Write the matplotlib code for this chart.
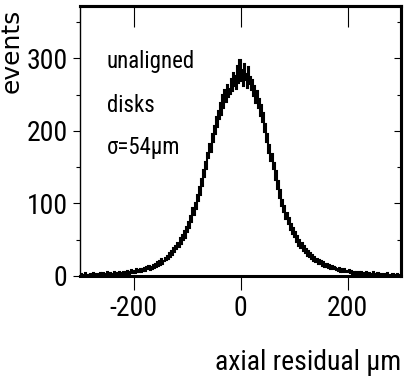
import numpy as np
import matplotlib
matplotlib.use('Agg')
import matplotlib.pyplot as plt
from matplotlib import font_manager

# histogram of axial residuals, 2 um bins from -300 to 300
edges = np.arange(-300, 301, 2)
counts = [
    1, 3, 0, 2, 1, 4, 1, 0, 2, 3,
    1, 2, 4, 1, 3, 0, 2, 3, 1, 4,
    2, 4, 1, 3, 2, 5, 1, 3, 4, 2,
    3, 1, 5, 2, 4, 3, 6, 2, 4, 3,
    5, 2, 6, 3, 7, 4, 3, 6, 8, 4,
    7, 4, 9, 5, 8, 6, 10, 5, 9, 7,
    11, 7, 12, 9, 14, 8, 13, 10, 15, 11,
    16, 12, 19, 14, 21, 15, 23, 17, 20, 25,
    22, 28, 24, 31, 26, 35, 29, 38, 33, 41,
    37, 46, 40, 52, 44, 57, 49, 62, 53, 68,
    60, 74, 66, 82, 75, 93, 84, 100, 92, 111,
    104, 122, 112, 133, 124, 146, 136, 157, 148, 170,
    162, 182, 171, 196, 184, 207, 195, 219, 205, 228,
    216, 238, 222, 249, 232, 256, 240, 263, 247, 258,
    251, 272, 255, 280, 262, 276, 258, 290, 266, 298,
    268, 284, 262, 292, 270, 278, 259, 288, 265, 274,
    256, 270, 248, 262, 238, 255, 231, 244, 220, 236,
    212, 224, 198, 210, 184, 196, 170, 181, 158, 168,
    148, 156, 132, 144, 120, 131, 108, 118, 96, 105,
    88, 97, 79, 87, 72, 80, 64, 71, 58, 66,
    54, 60, 47, 55, 42, 49, 38, 45, 35, 41,
    31, 37, 28, 34, 26, 31, 23, 29, 21, 26,
    19, 24, 17, 22, 16, 20, 14, 19, 13, 17,
    12, 16, 11, 15, 10, 14, 9, 13, 11, 8,
    10, 7, 11, 6, 9, 5, 8, 10, 6, 7,
    5, 8, 4, 7, 3, 6, 5, 2, 6, 4,
    3, 5, 2, 6, 3, 4, 1, 5, 3, 2,
    4, 1, 3, 2, 5, 1, 3, 2, 4, 2,
    1, 3, 2, 0, 3, 1, 2, 4, 1, 2,
    2, 0, 3, 1, 2, 1, 3, 0, 2, 1,
]

xticks = [-200, 0, 200]
yticks = [0, 100, 200, 300]
yminor = [50, 150, 250, 350]
notes = ['unaligned', 'disks', '\u03c3=54\u03bcm']

names = {f.name for f in font_manager.fontManager.ttflist}
narrow = 'Liberation Sans'
for cand in ['Liberation Sans Narrow', 'Arial Narrow', 'Nimbus Sans Narrow',
             'Roboto Condensed', 'PT Sans Narrow', 'Archivo Narrow',
             'Pragati Narrow', 'Barlow Semi Condensed']:
    if cand in names:
        narrow = cand
        break
plt.rcParams['font.family'] = [narrow, 'DejaVu Sans']
plt.rcParams['axes.unicode_minus'] = False

fig = plt.figure(figsize=(4.07, 3.82), dpi=100)
ax = fig.add_axes([0.1966, 0.2775, 0.7887, 0.7068])

ax.stairs(counts, edges, color='black', lw=1.5)

ax.set_xlim(-300, 300)
ax.set_ylim(0, 372)

ax.set_xticks(xticks)
ax.set_yticks(yticks)
ax.set_yticks(yminor, minor=True)
ax.tick_params(axis='x', which='major', direction='out', length=10, width=0.8,
               labelsize=20, pad=4, top=False)
ax.tick_params(axis='y', which='major', direction='out', length=5, width=0.8,
               labelsize=20, pad=4)
ax.tick_params(axis='y', which='minor', direction='out', length=3, width=0.8)

# inward ticks on the top and right edges
sec_x = ax.secondary_xaxis('top')
sec_x.set_xticks(xticks)
sec_x.tick_params(direction='in', length=15, width=0.8, labeltop=False)
sec_x.spines['top'].set_linewidth(2.2)
sec_y = ax.secondary_yaxis('right')
sec_y.set_yticks(yticks)
sec_y.set_yticks(yminor, minor=True)
sec_y.tick_params(which='major', direction='in', length=5, width=0.8, labelright=False)
sec_y.tick_params(which='minor', direction='in', length=3, width=0.8)
sec_y.spines['right'].set_linewidth(2.2)

ax.spines['left'].set_linewidth(1.0)
ax.spines['bottom'].set_linewidth(2.2)
ax.spines['top'].set_linewidth(2.2)
ax.spines['right'].set_linewidth(2.2)

for txt, yv in zip(notes, [286, 226, 168]):
    ax.text(-250, yv, txt, fontsize=16.5, ha='left', va='baseline')

fig.text(401 / 407, 1 - 370 / 382, 'axial residual \u03bcm', fontsize=20,
         ha='right', va='baseline')
fig.text(0 / 407, 1 - 9 / 382, 'events', fontsize=18, rotation=90,
         ha='left', va='top', family=['DejaVu Sans'])

fig.savefig('out.png', dpi=100)
